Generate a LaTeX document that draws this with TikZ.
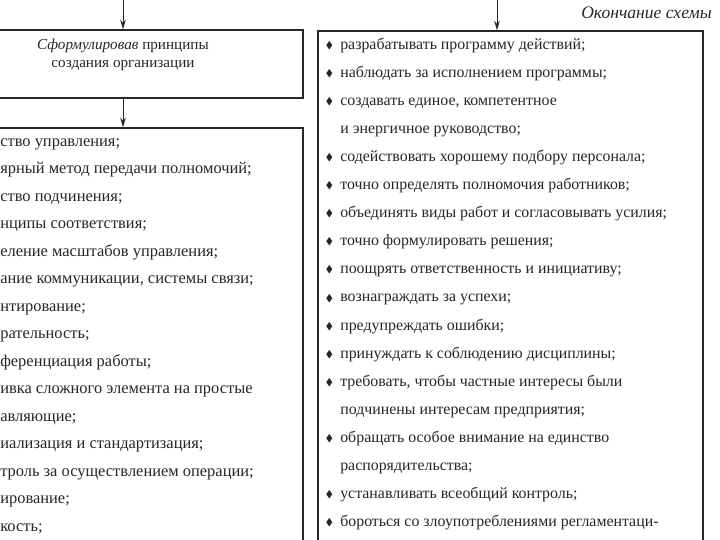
\documentclass[tikz,border=0pt]{standalone}
\usepackage{amssymb}
\usepackage{fontspec}
\setmainfont{Liberation Serif}
\usetikzlibrary{positioning,arrows.meta}
\colorlet{scanink}{black!85}
\tikzset{
  scheme/box/.style={draw=scanink, line width=1pt, inner sep=0pt},
  scheme/arrow/.style={scanink, line width=0.6pt, -{Stealth[length=2.4mm, width=1.4mm]}},
  scheme/item/.style={anchor=base west, inner sep=0pt, text=scanink, font=\fontsize{11.3}{12}\selectfont},
  scheme/leftitem/.style={scheme/item, font=\fontsize{11.7}{12}\selectfont},
}
\newcommand{\itemdot}{\llap{\raisebox{0.12ex}{\scriptsize$\blacklozenge$}\hspace{5pt}}}

\begin{document}
\begin{tikzpicture}
\useasboundingbox (0,0) rectangle (18,-13.5);
\clip (0,0) rectangle (18,-13.5);
% boxes
\node[scheme/box, minimum width=9cm, minimum height=1.7cm] (goal) at (3.075,-1.6) {};
\node[scheme/box, minimum width=9cm, minimum height=11.8cm] (principles) at (3.075,-9.1) {};
\node[scheme/box, minimum width=9.625cm, minimum height=14.225cm] (rules) at (12.7625,-7.8875) {};
\node[below=0.24cm of goal.north, align=center, text=scanink, inner sep=0pt,
  font=\fontsize{10.8}{12.4}\selectfont] (goaltext)
  {\textit{Сформулировав} принципы\\создания организации};
\node[anchor=base east, inner sep=0pt, text=scanink, font=\fontsize{12.5}{14}\selectfont\itshape]
  (contd) at (17.8,-0.46) {Окончание схемы};
% arrows
\coordinate (ltop) at (goal.north |- 0,0);
\coordinate (rtop) at (12.425,0);
\draw[scheme/arrow] (ltop) -- (goal.north);
\draw[scheme/arrow] (goal.south) -- (principles.north);
\draw[scheme/arrow] (rtop) -- (rtop |- rules.north);
% left list
\node[scheme/leftitem] (l1) at (0,-3.65) {ство управления;};
\node[scheme/leftitem] (l2) at (0,-4.3375) {ярный метод передачи полномочий;};
\node[scheme/leftitem] (l3) at (0,-5.025) {ство подчинения;};
\node[scheme/leftitem] (l4) at (0,-5.7125) {нципы соответствия;};
\node[scheme/leftitem] (l5) at (0,-6.4) {еление масштабов управления;};
\node[scheme/leftitem] (l6) at (0,-7.0875) {ание коммуникации, системы связи;};
\node[scheme/leftitem] (l7) at (0,-7.775) {нтирование;};
\node[scheme/leftitem] (l8) at (0,-8.4625) {рательность;};
\node[scheme/leftitem] (l9) at (0,-9.15) {ференциация работы;};
\node[scheme/leftitem] (l10) at (0,-9.8375) {ивка сложного элемента на простые};
\node[scheme/leftitem] (l11) at (0,-10.525) {авляющие;};
\node[scheme/leftitem] (l12) at (0,-11.2125) {иализация и стандартизация;};
\node[scheme/leftitem] (l13) at (0,-11.9) {троль за осуществлением операции;};
\node[scheme/leftitem] (l14) at (0,-12.5875) {ирование;};
\node[scheme/leftitem] (l15) at (0,-13.275) {кость;};
% right list
\node[scheme/item] (r1) at (8.5,-1.225) {\itemdot разрабатывать программу действий;};
\node[scheme/item] (r2) at (8.5,-1.9275) {\itemdot наблюдать за исполнением программы;};
\node[scheme/item] (r3) at (8.5,-2.63) {\itemdot создавать единое, компетентное};
\node[scheme/item] (r4) at (8.5,-3.3325) {и энергичное руководство;};
\node[scheme/item] (r5) at (8.5,-4.035) {\itemdot содействовать хорошему подбору персонала;};
\node[scheme/item] (r6) at (8.5,-4.7375) {\itemdot точно определять полномочия работников;};
\node[scheme/item] (r7) at (8.5,-5.44) {\itemdot объединять виды работ и согласовывать усилия;};
\node[scheme/item] (r8) at (8.5,-6.1425) {\itemdot точно формулировать решения;};
\node[scheme/item] (r9) at (8.5,-6.845) {\itemdot поощрять ответственность и инициативу;};
\node[scheme/item] (r10) at (8.5,-7.5475) {\itemdot вознаграждать за успехи;};
\node[scheme/item] (r11) at (8.5,-8.25) {\itemdot предупреждать ошибки;};
\node[scheme/item] (r12) at (8.5,-8.9525) {\itemdot принуждать к соблюдению дисциплины;};
\node[scheme/item] (r13) at (8.5,-9.655) {\itemdot требовать, чтобы частные интересы были};
\node[scheme/item] (r14) at (8.5,-10.3575) {подчинены интересам предприятия;};
\node[scheme/item] (r15) at (8.5,-11.06) {\itemdot обращать особое внимание на единство};
\node[scheme/item] (r16) at (8.5,-11.7625) {распорядительства;};
\node[scheme/item] (r17) at (8.5,-12.465) {\itemdot устанавливать всеобщий контроль;};
\node[scheme/item] (r18) at (8.5,-13.1675) {\itemdot бороться со злоупотреблениями регламентаци-};
\end{tikzpicture}
\end{document}
